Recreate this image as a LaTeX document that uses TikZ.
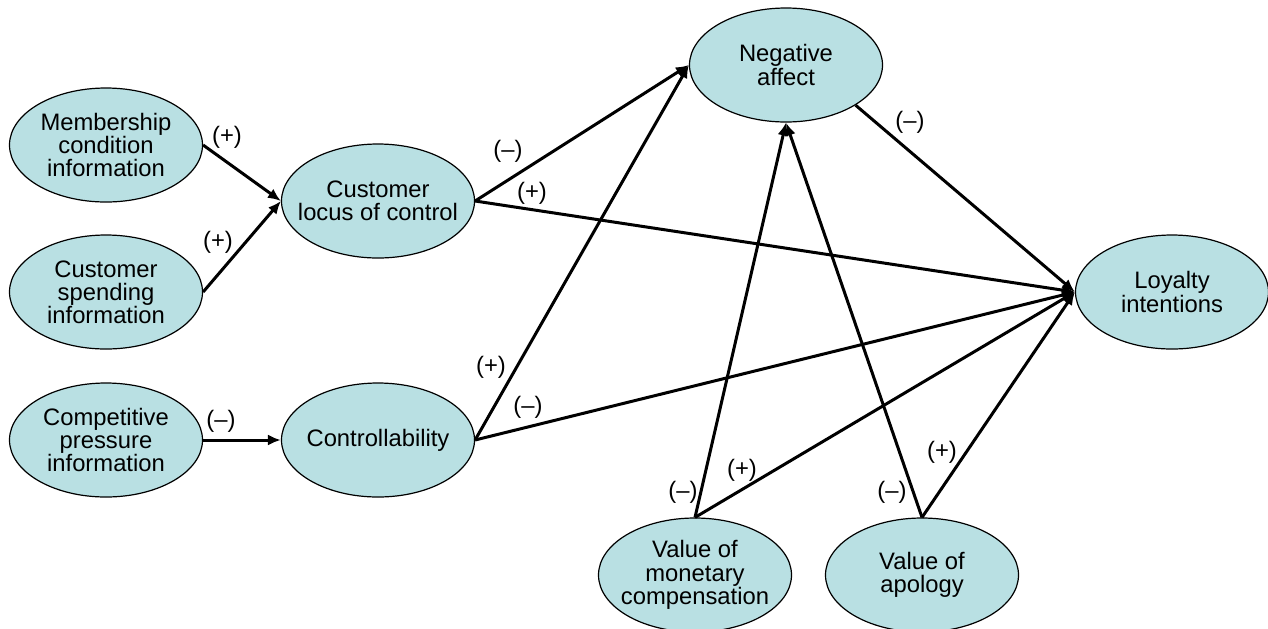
\documentclass[tikz,border=0pt]{standalone}
\usepackage{fontspec}
\setmainfont{Liberation Sans}
\usetikzlibrary{shapes.geometric,arrows.meta}
\definecolor{ellfill}{RGB}{185,224,227}

\begin{document}
\begin{tikzpicture}[>={Latex[length=6.5pt,width=5.5pt]},x=0.5pt,y=-0.5pt,
  ell/.style={ellipse,draw,line width=0.6pt,fill=ellfill,inner ysep=0pt,inner xsep=-10pt,
    minimum width=96.5pt,minimum height=57pt,align=center,
    font=\fontsize{11.9pt}{11.6pt}\selectfont},
  lab/.style={inner sep=0pt,font=\fontsize{11.9pt}{11.6pt}\selectfont},
  path/.style={->,line width=1.5pt}]
\useasboundingbox (0,0) rectangle (1268,628);
% constructs
\node[ell] (memb) at (106,145) {Membership\\condition\\information};
\node[ell] (spend) at (106,292) {Customer\\spending\\information};
\node[ell] (comp) at (106,440) {Competitive\\pressure\\information};
\node[ell] (locus) at (378,201) {Customer\\locus of control};
\node[ell] (ctrl) at (378,440) {Controllability};
\node[ell] (neg) at (786,65) {Negative\\affect};
\node[ell] (loyal) at (1172,292) {Loyalty\\intentions};
\node[ell] (money) at (695,575) {Value of\\monetary\\compensation};
\node[ell] (apol) at (922,575) {Value of\\apology};
% paths
\draw[path] (memb.east) -- (locus.west);
\draw[path] (spend.east) -- (locus.west);
\draw[path] (comp.east) -- (ctrl.west);
\draw[path] (locus.east) -- (neg.west);
\draw[path] (locus.east) -- (loyal.west);
\draw[path] (ctrl.east) -- (neg.west);
\draw[path] (ctrl.east) -- (loyal.west);
\draw[path] (neg.-30) -- (loyal.west);
\draw[path] (money.north) -- (neg.south);
\draw[path] (money.north) -- (loyal.west);
\draw[path] (apol.north) -- (neg.south);
\draw[path] (apol.north) -- (loyal.west);
% signs
\node[lab] (s1) at (227,137) {(+)};
\node[lab] (s2) at (218,242) {(+)};
\node[lab] (s3) at (221,421) {(--)};
\node[lab] (s4) at (508,151) {(--)};
\node[lab] (s5) at (532,193) {(+)};
\node[lab] (s6) at (491,367) {(+)};
\node[lab] (s7) at (528,407) {(--)};
\node[lab] (s8) at (910,122) {(--)};
\node[lab] (s9) at (683,492) {(--)};
\node[lab] (s10) at (742,470) {(+)};
\node[lab] (s11) at (892,492) {(--)};
\node[lab] (s12) at (942,452) {(+)};
\end{tikzpicture}
\end{document}
